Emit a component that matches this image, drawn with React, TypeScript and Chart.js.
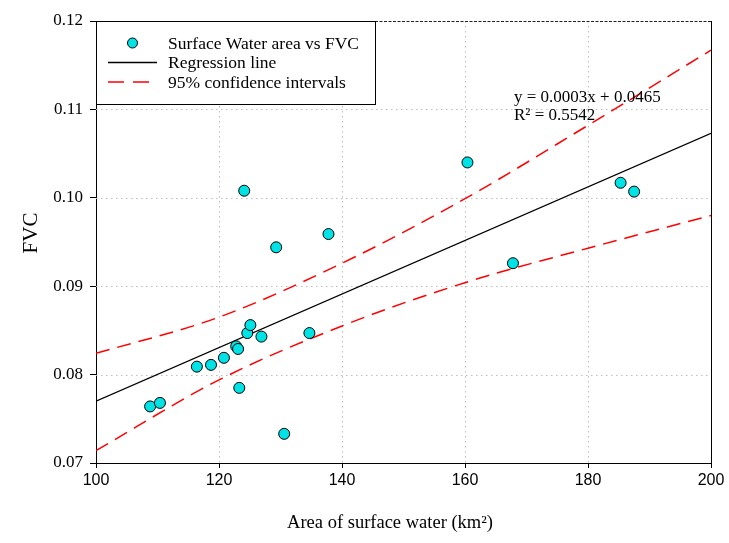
import React, { useEffect, useRef } from "react";
import { Chart, registerables } from "chart.js";

Chart.register(...registerables);

// ---- data ----
const waterArea = [108.8, 110.4, 116.4, 118.7, 120.8, 122.8, 123.1, 123.3, 124.1, 124.6, 125.1, 126.9, 129.3, 130.6, 134.7, 137.8, 160.4, 167.8, 185.3, 187.5];
const fvcValues = [0.0764, 0.0768, 0.0809, 0.0811, 0.0819, 0.0832, 0.0829, 0.0785, 0.1008, 0.0847, 0.0856, 0.0843, 0.0944, 0.0733, 0.0847, 0.0959, 0.1040, 0.0926, 0.1017, 0.1007];

const regressionX = [100, 200];
const regressionY = [0.0770, 0.1073];

const ciX = [100, 120, 140, 160, 180, 200];
const ciUpper = [0.0824, 0.0865, 0.0926, 0.0999, 0.1082, 0.1167];
const ciLower = [0.0714, 0.0794, 0.0855, 0.0904, 0.0943, 0.0980];

const legendLabels = ["Surface Water area vs FVC", "Regression line", "95% confidence intervals"];
const equationLines = ["y = 0.0003x + 0.0465", "R\u00B2 = 0.5542"];
const xTitle = "Area of surface water (km\u00B2)";
const yTitle = "FVC";

const SERIF = "'Liberation Serif', 'Times New Roman', serif";
const SANS = "'Liberation Sans', Arial, sans-serif";
const CYAN = "#00E3E6";

const overlayPlugin = {
  id: "overlay",
  beforeDatasetsDraw(chart: any) {
    const { ctx, chartArea: a, scales } = chart;
    const xs = scales.x;
    const ys = scales.y;
    ctx.save();
    ctx.strokeStyle = "#bdbdbd";
    ctx.lineWidth = 1;
    ctx.setLineDash([1.5, 3.5]);
    xs.ticks.forEach((t: any) => {
      if (t.value > xs.min + 1e-9 && t.value < xs.max - 1e-9) {
        const px = Math.round(xs.getPixelForValue(t.value)) + 0.5;
        ctx.beginPath();
        ctx.moveTo(px, a.top);
        ctx.lineTo(px, a.bottom);
        ctx.stroke();
      }
    });
    ys.ticks.forEach((t: any) => {
      if (t.value > ys.min + 1e-9 && t.value < ys.max - 1e-9) {
        const py = Math.round(ys.getPixelForValue(t.value)) + 0.5;
        ctx.beginPath();
        ctx.moveTo(a.left, py);
        ctx.lineTo(a.right, py);
        ctx.stroke();
      }
    });
    ctx.restore();
  },
  afterDraw(chart: any) {
    const { ctx, chartArea: a } = chart;
    ctx.save();
    // right border (solid) and top border (dashed)
    ctx.strokeStyle = "#000";
    ctx.lineWidth = 1;
    ctx.setLineDash([]);
    ctx.beginPath();
    ctx.moveTo(Math.round(a.right) + 0.5, a.top);
    ctx.lineTo(Math.round(a.right) + 0.5, a.bottom);
    ctx.stroke();
    ctx.setLineDash([3, 1.5]);
    ctx.strokeStyle = "#222";
    ctx.beginPath();
    ctx.moveTo(a.left, Math.round(a.top) + 0.5);
    ctx.lineTo(a.right, Math.round(a.top) + 0.5);
    ctx.stroke();

    // legend box
    const lx = Math.round(a.left) + 0.5;
    const ly = Math.round(a.top) + 0.5;
    const lw = 279;
    const lh = 83;
    ctx.setLineDash([]);
    ctx.fillStyle = "#fff";
    ctx.fillRect(lx, ly, lw, lh);
    ctx.strokeStyle = "#000";
    ctx.lineWidth = 1;
    ctx.strokeRect(lx, ly, lw, lh);

    const textX = 168;
    const rows = [43, 62.5, 82];
    ctx.font = `17.5px ${SERIF}`;
    ctx.fillStyle = "#000";
    ctx.textBaseline = "middle";
    ctx.textAlign = "left";
    // marker
    ctx.beginPath();
    ctx.arc(132.5, rows[0], 5, 0, Math.PI * 2);
    ctx.fillStyle = CYAN;
    ctx.fill();
    ctx.strokeStyle = "#000";
    ctx.stroke();
    // regression line sample
    ctx.beginPath();
    ctx.moveTo(108, rows[1]);
    ctx.lineTo(157, rows[1]);
    ctx.strokeStyle = "#000";
    ctx.lineWidth = 1.3;
    ctx.stroke();
    // CI sample
    ctx.beginPath();
    ctx.setLineDash([16, 9]);
    ctx.moveTo(108, rows[2]);
    ctx.lineTo(150, rows[2]);
    ctx.strokeStyle = "#ff0000";
    ctx.lineWidth = 1.5;
    ctx.stroke();
    ctx.setLineDash([]);
    ctx.fillStyle = "#000";
    legendLabels.forEach((l, i) => ctx.fillText(l, textX, rows[i] + 1));

    // equation annotation
    ctx.font = `17px ${SERIF}`;
    ctx.fillText(equationLines[0], 514, 98);
    ctx.fillText(equationLines[1], 514, 116);

    // axis titles
    ctx.font = `18.5px ${SERIF}`;
    ctx.textAlign = "center";
    ctx.textBaseline = "alphabetic";
    ctx.fillText(xTitle, 390, 528);
    ctx.save();
    ctx.translate(37, 233);
    ctx.rotate(-Math.PI / 2);
    ctx.font = `21px ${SERIF}`;
    ctx.fillText(yTitle, 0, 0);
    ctx.restore();
    ctx.restore();
  },
};

export default function App() {
  const ref = useRef<HTMLCanvasElement | null>(null);
  useEffect(() => {
    if (!ref.current) return;
    const chart = new Chart(ref.current, {
      type: "scatter",
      data: {
        datasets: [
          {
            label: legendLabels[0],
            data: waterArea.map((x, i) => ({ x, y: fvcValues[i] })),
            backgroundColor: CYAN,
            borderColor: "#000",
            borderWidth: 1,
            pointRadius: 5.5,
            order: 0,
          },
          {
            type: "line",
            label: legendLabels[1],
            data: regressionX.map((x, i) => ({ x, y: regressionY[i] })),
            borderColor: "#000",
            borderWidth: 1.3,
            pointRadius: 0,
            showLine: true,
            order: 1,
          },
          {
            type: "line",
            label: legendLabels[2],
            data: ciX.map((x, i) => ({ x, y: ciUpper[i] })),
            borderColor: "#ff0000",
            borderWidth: 1.5,
            borderDash: [14, 8],
            pointRadius: 0,
            showLine: true,
            cubicInterpolationMode: "monotone",
            order: 2,
          },
          {
            type: "line",
            label: legendLabels[2] + " (lower)",
            data: ciX.map((x, i) => ({ x, y: ciLower[i] })),
            borderColor: "#ff0000",
            borderWidth: 1.5,
            borderDash: [14, 8],
            pointRadius: 0,
            showLine: true,
            cubicInterpolationMode: "monotone",
            order: 2,
          },
        ],
      } as any,
      options: {
        animation: false,
        responsive: false,
        layout: { padding: { left: 0, top: 21, right: 18, bottom: 0 } },
        plugins: { legend: { display: false }, tooltip: { enabled: false } },
        scales: {
          x: {
            type: "linear",
            min: 100,
            max: 200,
            ticks: {
              stepSize: 20,
              color: "#000",
              font: { family: SANS, size: 16 },
              padding: 3,
            },
            grid: { drawOnChartArea: false, tickLength: 5, tickColor: "#000", tickWidth: 1 },
            border: { color: "#000", width: 1 },
            afterFit: (s: any) => {
              s.height = 80;
            },
          },
          y: {
            type: "linear",
            min: 0.07,
            max: 0.12,
            ticks: {
              stepSize: 0.01,
              color: "#000",
              font: { family: SERIF, size: 17 },
              padding: 7,
              callback: (v: any) => Number(v).toFixed(2),
            },
            grid: { drawOnChartArea: false, tickLength: 6, tickColor: "#000", tickWidth: 1 },
            border: { color: "#000", width: 1 },
            afterFit: (s: any) => {
              s.width = 96;
            },
          },
        },
      } as any,
      plugins: [overlayPlugin],
    });
    return () => chart.destroy();
  }, []);
  return (
    <div style={{ position: "fixed", left: 0, top: 0, width: 729, height: 543, background: "#fff" }}>
      <canvas ref={ref} width={729} height={543} />
    </div>
  );
}
